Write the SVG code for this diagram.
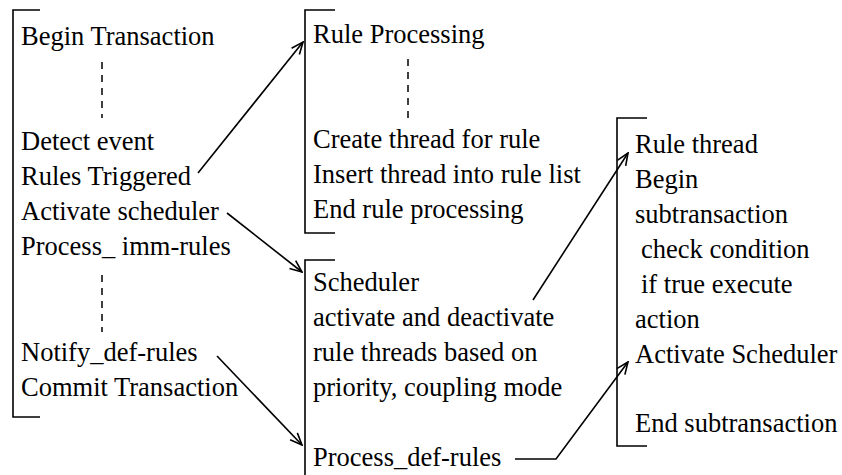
<svg xmlns="http://www.w3.org/2000/svg" width="842" height="475" viewBox="0 0 842 475">
<style>
text { font-family: "Liberation Serif", "Times New Roman", serif; font-size: 26.5px; fill: #000; }
.br { fill: none; stroke: #000; stroke-width: 1.6; }
.dash { fill: none; stroke: #000; stroke-width: 1.5; stroke-dasharray: 7 6; }
.conn { fill: none; stroke: #000; stroke-width: 1.6; marker-end: url(#arr); }
</style>
<defs>
<marker id="arr" viewBox="0 0 14 12" refX="13" refY="6" markerWidth="14" markerHeight="12" markerUnits="userSpaceOnUse" orient="auto">
<path d="M1,1 L13,6 L1,11" fill="none" stroke="#000" stroke-width="1.6"/>
</marker>
</defs>
<rect width="842" height="475" fill="#fff"/>
<g id="transaction">
<path class="br" d="M40,10 H13 V417 H40"/>
<text x="21" y="45">Begin Transaction</text>
<line class="dash" x1="102" y1="62" x2="102" y2="118"/>
<text x="21" y="150">Detect event</text>
<text x="21" y="185">Rules Triggered</text>
<text x="21" y="220">Activate scheduler</text>
<text x="21" y="255">Process_ imm-rules</text>
<line class="dash" x1="102" y1="275" x2="102" y2="332"/>
<text x="21" y="361">Notify_def-rules</text>
<text x="21" y="396">Commit Transaction</text>
</g>
<g id="rule-processing">
<path class="br" d="M335,10 H305 V233 H335"/>
<text x="313" y="43">Rule Processing</text>
<line class="dash" x1="408" y1="59" x2="408" y2="118"/>
<text x="313" y="148">Create thread for rule</text>
<text x="313" y="183">Insert thread into rule list</text>
<text x="313" y="218">End rule processing</text>
</g>
<g id="scheduler">
<path class="br" d="M335,260 H305 V475"/>
<text x="313" y="291">Scheduler</text>
<text x="313" y="326">activate and deactivate</text>
<text x="313" y="361">rule threads based on</text>
<text x="313" y="396">priority, coupling mode</text>
<text x="313" y="466">Process_def-rules</text>
</g>
<g id="rule-thread">
<path class="br" d="M647,118 H617 V446 H647"/>
<text x="635" y="153">Rule thread</text>
<text x="635" y="188">Begin</text>
<text x="635" y="223">subtransaction</text>
<text x="641" y="258">check condition</text>
<text x="641" y="293">if true execute</text>
<text x="635" y="328">action</text>
<text x="635" y="363">Activate Scheduler</text>
<text x="635" y="432">End subtransaction</text>
</g>
<g id="connectors">
<line class="conn" x1="198" y1="173" x2="303" y2="42"/>
<line class="conn" x1="227" y1="213" x2="302" y2="272"/>
<line class="conn" x1="217" y1="356" x2="302" y2="445"/>
<line class="conn" x1="533" y1="300" x2="628" y2="153"/>
<polyline class="conn" points="515,459 556,459 628,362"/>
</g>
</svg>
